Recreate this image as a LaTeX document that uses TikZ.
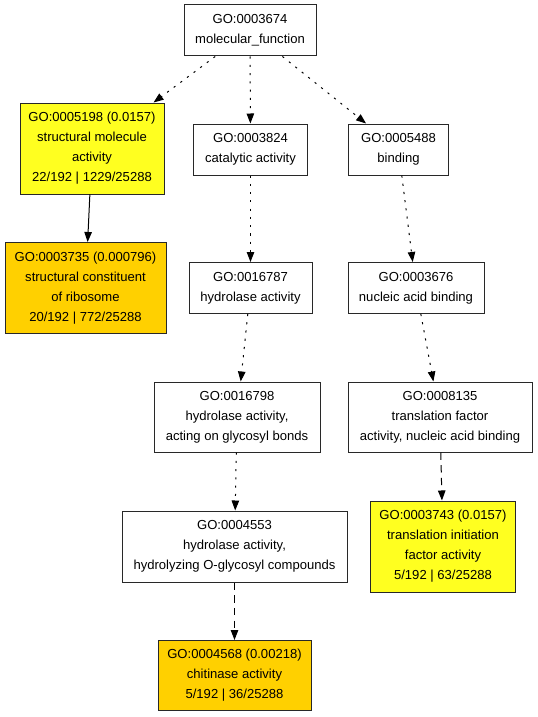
\documentclass[tikz,border=0pt]{standalone}
\usepackage{fontspec}
\setmainfont{Liberation Sans}
\usetikzlibrary{arrows.meta}
\definecolor{goyellow}{RGB}{255,255,32}
\definecolor{gogold}{RGB}{255,208,0}
\definecolor{goedge}{RGB}{40,40,40}
\tikzset{
  gobox/.style n args={2}{draw=goedge, line width=0.75pt, rectangle, align=center,
    minimum width=#1*0.75pt, minimum height=#2*0.75pt, inner sep=0pt,
    font=\fontsize{9.8pt}{15pt}\selectfont},
  conn/.style={draw=black, line width=0.75pt, -{Triangle[length=7.5pt,width=5.6pt]}},
  dotc/.style={conn, dash pattern=on 1.6pt off 4.6pt},
  dashc/.style={conn, dash pattern=on 5.5pt off 4pt},
}
\begin{document}
\begin{tikzpicture}[x=0.75pt,y=-0.75pt]
\useasboundingbox (0,0) rectangle (537,717);
\node[gobox={132}{51}] (mf) at (250,30.5) {GO:0003674\\molecular\_function};
\node[gobox={144}{91}, fill=goyellow] (n5198) at (92,148.5) {GO:0005198 (0.0157)\\structural molecule\\activity\\22/192 | 1229/25288};
\node[gobox={161}{91}, fill=gogold] (n3735) at (85.5,288) {GO:0003735 (0.000796)\\structural constituent\\of ribosome\\20/192 | 772/25288};
\node[gobox={114}{51}] (n3824) at (250.5,149.5) {GO:0003824\\catalytic activity};
\node[gobox={100}{51}] (n5488) at (398.5,149.5) {GO:0005488\\binding};
\node[gobox={123}{51}] (n16787) at (250.5,288) {GO:0016787\\hydrolase activity};
\node[gobox={136}{51}] (n3676) at (416,288) {GO:0003676\\nucleic acid binding};
\node[gobox={166}{70}] (n16798) at (237,417) {GO:0016798\\hydrolase activity,\\acting on glycosyl bonds};
\node[gobox={184}{70}] (n8135) at (440,417) {GO:0008135\\translation factor\\activity, nucleic acid binding};
\node[gobox={225}{71}] (n4553) at (234.5,546.5) {GO:0004553\\hydrolase activity,\\hydrolyzing O-glycosyl compounds};
\node[gobox={145}{91}, fill=goyellow] (n3743) at (443,546.5) {GO:0003743 (0.0157)\\translation initiation\\factor activity\\5/192 | 63/25288};
\node[gobox={153}{70}, fill=gogold] (n4568) at (234.5,675.5) {GO:0004568 (0.00218)\\chitinase activity\\5/192 | 36/25288};
\draw[dotc] (mf) -- (n5198);
\draw[dotc] (mf) -- (n3824);
\draw[dotc] (mf) -- (n5488);
\draw[conn] (n5198) -- (n3735);
\draw[dotc] (n3824) -- (n16787);
\draw[dotc] (n5488) -- (n3676);
\draw[dotc] (n16787) -- (n16798);
\draw[dotc] (n3676) -- (n8135);
\draw[dotc] (n16798) -- (n4553);
\draw[dashc] (n8135) -- (n3743);
\draw[dashc] (n4553) -- (n4568);
\end{tikzpicture}
\end{document}
